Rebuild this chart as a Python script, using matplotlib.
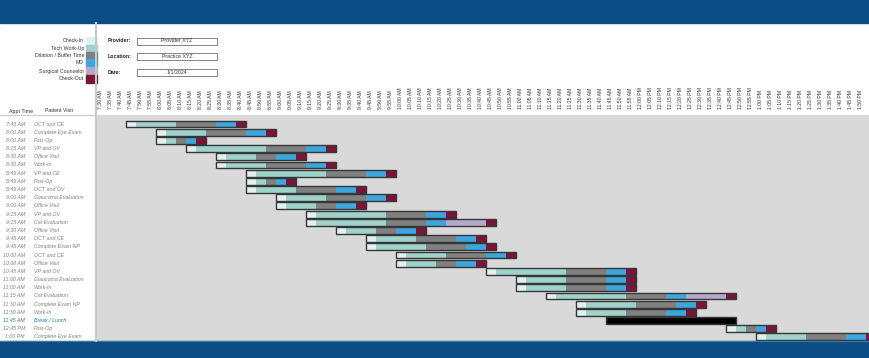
import matplotlib.pyplot as plt
import matplotlib.patches as patches
import matplotlib.transforms as mtransforms

plt.rcParams['font.family'] = ['Liberation Sans', 'DejaVu Sans']

# schedule data
appt_times = ['7:45 AM', '8:00 AM', '8:00 AM', '8:15 AM', '8:30 AM', '8:30 AM', '8:45 AM',
              '8:45 AM', '8:45 AM', '9:00 AM', '9:00 AM', '9:15 AM', '9:15 AM', '9:30 AM',
              '9:45 AM', '9:45 AM', '10:00 AM', '10:00 AM', '10:45 AM', '11:00 AM', '11:00 AM',
              '11:15 AM', '11:30 AM', '11:30 AM', '11:45 AM', '12:45 PM', '1:00 PM']
visits = ['OCT and CE', 'Complete Eye Exam', 'Post-Op', 'VP and OV', 'Office Visit', 'Work-In',
          'VP and CE', 'Post-Op', 'OCT and OV', 'Glaucoma Evaluation', 'Office Visit',
          'VP and OV', 'Cat Evaluation', 'Office Visit', 'OCT and CE', 'Complete Exam NP',
          'OCT and CE', 'Office Visit', 'VP and OV', 'Glaucoma Evaluation', 'Work-In',
          'Cat Evaluation', 'Complete Exam NP', 'Work-In', 'Break / Lunch', 'Post-Op',
          'Complete Eye Exam']

# minutes per phase
checkin  = [5, 5, 5, 5, 5, 5, 5, 5, 5, 5, 5, 5, 5, 5, 5, 5, 5, 5, 5, 5, 5, 5, 5, 5, 0, 5, 5]
tech     = [20, 20, 5, 35, 15, 20, 35, 5, 20, 20, 15, 35, 35, 15, 20, 25, 20, 15, 35, 20, 20, 35, 25, 20, 0, 5, 20]
dilation = [20, 20, 5, 20, 10, 20, 20, 5, 20, 20, 10, 20, 20, 10, 20, 20, 20, 10, 20, 20, 20, 20, 20, 20, 0, 5, 20]
md       = [10, 10, 5, 10, 10, 10, 10, 5, 10, 10, 10, 10, 10, 10, 10, 10, 10, 10, 10, 10, 10, 10, 10, 10, 0, 5, 10]
surgical = [0, 0, 0, 0, 0, 0, 0, 0, 0, 0, 0, 0, 20, 0, 0, 0, 0, 0, 0, 0, 0, 20, 0, 0, 0, 0, 0]
checkout = [5, 5, 5, 5, 5, 5, 5, 5, 5, 5, 5, 5, 5, 5, 5, 5, 5, 5, 5, 5, 5, 5, 5, 5, 0, 5, 5]
lunch    = [0, 0, 0, 0, 0, 0, 0, 0, 0, 0, 0, 0, 0, 0, 0, 0, 0, 0, 0, 0, 0, 0, 0, 0, 65, 0, 0]

phase_names = ['Check-In', 'Tech Work-Up', 'Dilation / Buffer Time', 'MD', 'Surgical Counselor', 'Check-Out']
phase_colors = ['#e2f1ef', '#a0d2cc', '#808080', '#3ba7de', '#b5a8cf', '#7b1535']
phases = [checkin, tech, dilation, md, surgical, checkout]

info_labels = ['Provider:', 'Location:', 'Date:']
info_values = ['Provider XYZ', 'Practice XYZ', '1/1/2024']

W, H = 870, 358
navy = '#0b4d84'


def fx(px):
    return px / W


def fy(py):
    return 1 - py / H


def to_min(s):
    t, ap = s.split()
    h, m = map(int, t.split(':'))
    if ap == 'PM' and h != 12:
        h += 12
    return h * 60 + m


def fmt(m):
    h, mm = divmod(m, 60)
    ap = 'AM' if h < 12 else 'PM'
    h12 = h if h <= 12 else h - 12
    return f'{h12}:{mm:02d} {ap}'


fig = plt.figure(figsize=(8.7, 3.58), dpi=100)

# bands and dividers
fig.patches.append(patches.Rectangle((0, fy(23)), 1, 23 / H, transform=fig.transFigure, color=navy, zorder=0))
fig.patches.append(patches.Rectangle((0, 0), 1, (H - 341) / H, transform=fig.transFigure, color=navy, zorder=0))
fig.add_artist(plt.Line2D([0, 1], [fy(341), fy(341)], transform=fig.transFigure, color='#3f78a8', lw=0.8))
fig.add_artist(plt.Line2D([fx(96), fx(96)], [fy(23), fy(341)], transform=fig.transFigure, color='#c8c8c8', lw=1.5))
fig.add_artist(plt.Line2D([0, fx(96)], [fy(115), fy(115)], transform=fig.transFigure, color='#d0d0d0', lw=1))

# legend
sw_edges = [37, 45, 52, 59, 67, 75, 83]
for k, (name, col) in enumerate(zip(phase_names, phase_colors)):
    y0, y1 = sw_edges[k], sw_edges[k + 1]
    fig.patches.append(patches.Rectangle((fx(86), fy(y1)), fx(97) - fx(86), (y1 - y0) / H,
                                         transform=fig.transFigure, color=col))
    fig.text(fx(84), fy((y0 + y1) / 2), name, ha='right', va='center', fontsize=3.8, color='#333333')

# provider / location / date
for k, (lab, val) in enumerate(zip(info_labels, info_values)):
    yc = 41 + k * 15.5
    fig.text(fx(108), fy(yc), lab, ha='left', va='center', fontsize=3.8, fontweight='bold', color='#222222')
    fig.patches.append(patches.Rectangle((fx(137), fy(yc + 3.5)), fx(217) - fx(137), 7 / H,
                                         transform=fig.transFigure, facecolor='white',
                                         edgecolor='#555555', lw=0.5))
    fig.text(fx(177), fy(yc), val, ha='center', va='center', fontsize=3.8, color='#333333')

fig.text(fx(9), fy(111), 'Appt Time', ha='left', va='center', fontsize=3.8, color='#333333')
fig.text(fx(45), fy(111), 'Patient Visit', ha='left', va='center', fontsize=3.8, color='#333333')

# gantt area
ax = fig.add_axes([fx(96), fy(341), 1 - fx(96), (341 - 115) / H])
ax.set_facecolor('#d9d9d9')
for s in ax.spines.values():
    s.set_visible(False)

bar_h = 0.84
for i, t in enumerate(appt_times):
    start = to_min(t)
    left = start
    for durs, col in zip(phases, phase_colors):
        d = durs[i]
        if d > 0:
            ax.barh(i, d, left=left, height=bar_h, color=col, linewidth=0)
            left += d
    if lunch[i] > 0:
        ax.barh(i, lunch[i], left=left, height=bar_h, color='black', linewidth=0)
        left += lunch[i]
    ax.barh(i, left - start, left=start, height=bar_h, fill=False, edgecolor='#363636', linewidth=1.0)

ax.set_xlim(450, 837)
ax.set_ylim(26.5, -1.1)
ax.set_yticks([])

col_starts = list(range(450, 831, 5))
ax.xaxis.tick_top()
ax.set_xticks([c + 2.5 for c in col_starts])
ax.set_xticklabels([fmt(c) for c in col_starts], rotation=90, fontsize=3.7, color='#333333')
ax.tick_params(axis='x', length=0, pad=4)

# row labels
trans = mtransforms.blended_transform_factory(fig.transFigure, ax.transData)
for i, (t, v) in enumerate(zip(appt_times, visits)):
    col = '#2e6fb0' if lunch[i] > 0 else '#808080'
    ax.text(fx(25), i, t, transform=trans, ha='right', va='center', fontsize=3.8, style='italic', color=col)
    ax.text(fx(34), i, v, transform=trans, ha='left', va='center', fontsize=3.8, style='italic', color=col)

fig.savefig('out.png', dpi=100)
